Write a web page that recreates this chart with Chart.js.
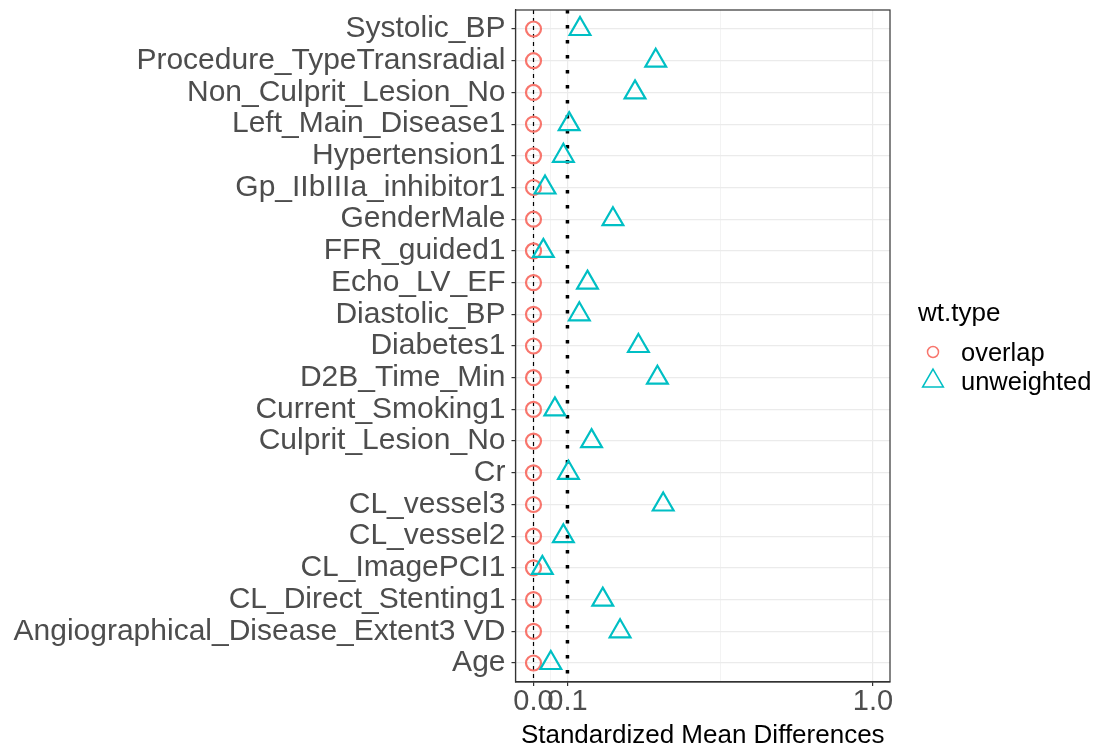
<!DOCTYPE html>
<html>
<head>
<meta charset="utf-8">
<script src="https://cdn.jsdelivr.net/npm/chart.js@4/dist/chart.umd.min.js"></script>
<style>
html,body{margin:0;padding:0;background:#fff;}
#wrap{width:1100px;height:752px;}
</style>
</head>
<body>
<div id="wrap"><canvas id="loveplot" width="1100" height="752"></canvas></div>
<script>
// covariates, top row first
const covariates = [
    "Systolic_BP", "Procedure_TypeTransradial", "Non_Culprit_Lesion_No", "Left_Main_Disease1",
    "Hypertension1", "Gp_IIbIIIa_inhibitor1", "GenderMale", "FFR_guided1", "Echo_LV_EF",
    "Diastolic_BP", "Diabetes1", "D2B_Time_Min", "Current_Smoking1", "Culprit_Lesion_No",
    "Cr", "CL_vessel3", "CL_vessel2", "CL_ImagePCI1", "CL_Direct_Stenting1",
    "Angiographical_Disease_Extent3 VD", "Age"
];
const overlapSMD = [0, 0, 0, 0, 0, 0, 0, 0, 0, 0, 0, 0, 0, 0, 0, 0, 0, 0, 0, 0, 0];
const unweightedSMD = [
    0.137, 0.360, 0.299, 0.105, 0.088, 0.034, 0.234, 0.029, 0.159, 0.135,
    0.309, 0.365, 0.063, 0.171, 0.103, 0.382, 0.088, 0.026, 0.204, 0.255, 0.051
];
const xMajorTicks = [0, 0.1, 1.0];
const xMinorTicks = [0.05, 0.55];
const zeroLine = 0;
const thresholdLine = 0.1;
const xMin = -0.053, xMax = 1.05;
const yMin = -0.6, yMax = covariates.length - 1 + 0.6;

const FONT = "'Liberation Sans', Arial, sans-serif";

const noPad = s => { s.paddingTop = 0; s.paddingBottom = 0; s.paddingLeft = 0; s.paddingRight = 0; };

const panelBorder = {
    id: "panelBorder",
    afterDraw(chart) {
        const {ctx, chartArea: a} = chart;
        ctx.save();
        ctx.strokeStyle = "#333333";
        ctx.lineWidth = 1.2;
        ctx.strokeRect(a.left, a.top, a.right - a.left, a.bottom - a.top);
        ctx.restore();
    }
};

// ggplot style legend to the right of the panel
const sideLegend = {
    id: "sideLegend",
    afterDraw(chart) {
        const {ctx, chartArea: a} = chart;
        const x0 = a.right + 28;
        const cy = (a.top + a.bottom) / 2;
        ctx.save();
        ctx.fillStyle = "#000";
        ctx.textBaseline = "alphabetic";
        ctx.font = "26px " + FONT;
        ctx.fillText("wt.type", x0, cy - 25);
        ctx.font = "25.5px " + FONT;
        const rows = chart.data.datasets.filter(d => d.legend);
        rows.forEach((d, i) => {
            const ry = cy + 6 + i * 29;
            ctx.fillStyle = "rgba(0,0,0,0)";
            ctx.strokeStyle = d.borderColor;
            ctx.lineWidth = 1.5;
            Chart.helpers.drawPoint(ctx, {
                pointStyle: d.pointStyle, radius: d.legendRadius, rotation: 0,
                borderWidth: 1.5
            }, x0 + 15, ry);
            ctx.fillStyle = "#000";
            ctx.fillText(d.label, x0 + 43, ry + 9);
        });
        ctx.restore();
    }
};

const ctx = document.getElementById("loveplot").getContext("2d");
new Chart(ctx, {
    type: "scatter",
    data: {
        datasets: [
            {
                type: "line", label: "zero",
                data: [{x: zeroLine, y: yMin}, {x: zeroLine, y: yMax}],
                borderColor: "#000", borderWidth: 1.2, borderDash: [4, 4],
                pointRadius: 0, fill: false, order: 3
            },
            {
                type: "line", label: "threshold",
                data: [{x: thresholdLine, y: yMin}, {x: thresholdLine, y: yMax}],
                borderColor: "#000", borderWidth: 3.5, borderDash: [3.5, 11.5],
                pointRadius: 0, fill: false, order: 3
            },
            {
                label: "overlap", legend: true, legendRadius: 5.5,
                data: overlapSMD.map((v, i) => ({x: v, y: i})),
                pointStyle: "circle", pointRadius: 7.5, pointBorderWidth: 2.2,
                borderColor: "#F8766D", backgroundColor: "rgba(0,0,0,0)", order: 2
            },
            {
                label: "unweighted", legend: true, legendRadius: 12,
                data: unweightedSMD.map((v, i) => ({x: v, y: i})),
                pointStyle: "triangle", pointRadius: 12, pointBorderWidth: 2.2,
                borderColor: "#00BFC4", backgroundColor: "rgba(0,0,0,0)", order: 1
            }
        ]
    },
    options: {
        responsive: false,
        animation: false,
        layout: {autoPadding: false, padding: {left: 0, right: 210, top: 10, bottom: 0}},
        plugins: {legend: {display: false}, tooltip: {enabled: false}},
        scales: {
            x: {
                type: "linear", min: xMin, max: xMax,
                afterBuildTicks: s => {
                    s.ticks = [...xMajorTicks, ...xMinorTicks].sort((a, b) => a - b).map(v => ({value: v}));
                },
                afterFit: s => { s.height = 70; noPad(s); },
                ticks: {
                    autoSkip: false, maxRotation: 0, minRotation: 0, padding: 1,
                    color: "#4D4D4D", font: {family: FONT, size: 29, lineHeight: 1},
                    callback: v => xMajorTicks.includes(v) ? v.toFixed(1) : ""
                },
                grid: {
                    color: "#EBEBEB",
                    lineWidth: c => (c.tick && xMinorTicks.includes(c.tick.value)) ? 0.6 : 1.2,
                    tickColor: c => (c.tick && xMinorTicks.includes(c.tick.value)) ? "rgba(0,0,0,0)" : "#333333",
                    tickWidth: 1.2, tickLength: 4
                },
                border: {display: true, color: "#333333", width: 1.2},
                title: {
                    display: true, text: "Standardized Mean Differences", color: "#000",
                    font: {family: FONT, size: 26}, padding: {top: 0, bottom: 1}
                }
            },
            y: {
                type: "linear", min: yMin, max: yMax, reverse: true,
                afterBuildTicks: s => { s.ticks = covariates.map((c, i) => ({value: i})); },
                afterFit: s => { s.width = 515.5; noPad(s); },
                ticks: {
                    autoSkip: false, padding: 6, color: "#4D4D4D",
                    font: {family: FONT, size: 30, lineHeight: 1},
                    callback: v => covariates[v]
                },
                grid: {color: "#EBEBEB", lineWidth: 1.2, tickColor: "#333333", tickWidth: 1.2, tickLength: 4},
                border: {display: true, color: "#333333", width: 1.2}
            }
        }
    },
    plugins: [panelBorder, sideLegend]
});
</script>
</body>
</html>
